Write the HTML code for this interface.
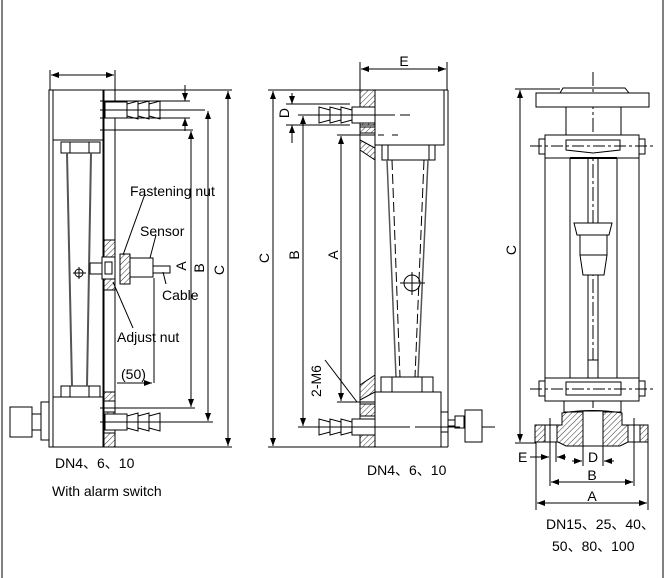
<!DOCTYPE html>
<html><head><meta charset="utf-8"><style>
html,body{margin:0;padding:0;background:#fff;}
svg{display:block;}
text{font-family:"Liberation Sans","Noto Sans CJK SC",sans-serif;fill:#000;}
</style></head><body>
<svg width="665" height="578" viewBox="0 0 665 578" xmlns="http://www.w3.org/2000/svg">
<defs>
<pattern id="h" width="4" height="4" patternUnits="userSpaceOnUse" patternTransform="rotate(45)"><line x1="0" y1="0" x2="0" y2="4" stroke="#000" stroke-width="0.8"/></pattern>
<marker id="a" markerWidth="8" markerHeight="6" refX="8" refY="3" orient="auto-start-reverse" markerUnits="userSpaceOnUse"><path d="M0,0 L8,3 L0,6 z" fill="#000"/></marker>
</defs>
<g stroke="#000" stroke-width="1" fill="none">
<line x1="2" y1="0" x2="2" y2="578"/>
<line x1="663" y1="0" x2="663" y2="578"/>

<!-- LEFT VIEW -->
<line x1="50" y1="70" x2="50" y2="90"/><line x1="115" y1="70" x2="115" y2="90"/>
<line x1="51" y1="75" x2="114" y2="75" marker-start="url(#a)" marker-end="url(#a)"/>
<rect x="49" y="90" width="54" height="357" fill="#fff"/>
<line x1="53" y1="90" x2="53" y2="447"/>
<line x1="53" y1="140" x2="103" y2="140"/>
<line x1="53" y1="397" x2="103" y2="397"/>
<rect x="61" y="142" width="39" height="11"/><line x1="70" y1="142" x2="70" y2="153"/><line x1="89" y1="142" x2="89" y2="153"/>
<rect x="61" y="386" width="39" height="11"/><line x1="70" y1="386" x2="70" y2="397"/><line x1="89" y1="386" x2="89" y2="397"/>
<line x1="67" y1="153" x2="72" y2="386" stroke-width="2" stroke="#555"/>
<line x1="91" y1="153" x2="87" y2="386" stroke-width="2" stroke="#555"/>
<circle cx="79" cy="273" r="4"/><line x1="73" y1="273" x2="86" y2="273"/><line x1="79" y1="267" x2="79" y2="279"/>
<rect x="104" y="90" width="11" height="357"/>
<rect x="104" y="240" width="11" height="50" fill="url(#h)"/>
<rect x="104" y="392" width="11" height="9" fill="url(#h)"/>
<rect x="104" y="412" width="11" height="5" fill="url(#h)"/>
<rect x="104" y="433" width="11" height="14" fill="url(#h)"/>
<rect x="105" y="102" width="22" height="16" fill="#fff"/>
<path d="M127,104 L138,101 L138,119 L127,116 Z M138,104 L149,101 L149,119 L138,116 Z M149,104 L160,101 L160,119 L149,116 Z" fill="#fff"/>
<rect x="105" y="414" width="22" height="16" fill="#fff"/>
<path d="M127,416 L138,413 L138,431 L127,428 Z M138,416 L149,413 L149,431 L138,428 Z M149,416 L160,413 L160,431 L149,428 Z" fill="#fff"/>
<line x1="100" y1="110" x2="205" y2="110"/><line x1="100" y1="422" x2="213" y2="422"/>
<rect x="10" y="407" width="22" height="30" fill="#fff"/><rect x="32" y="414" width="9" height="16"/><rect x="41" y="402" width="8" height="38"/>
<rect x="90" y="263" width="14" height="11"/>
<rect x="102" y="257" width="13" height="22" fill="#fff"/>
<rect x="105" y="262" width="7" height="12"/>
<rect x="120" y="254" width="10" height="30" fill="url(#h)"/>
<rect x="130" y="258" width="23" height="19" fill="#fff"/>
<rect x="153" y="266" width="17" height="7"/>
<line x1="154" y1="278" x2="154" y2="383"/>
<line x1="122" y1="383" x2="152" y2="383" marker-end="url(#a)"/>
<line x1="117" y1="383" x2="122" y2="383"/>
<line x1="145" y1="194" x2="123" y2="255"/>
<line x1="156" y1="235" x2="150" y2="258"/>
<line x1="166" y1="284" x2="163" y2="272"/>
<line x1="133" y1="328" x2="113" y2="282"/>
<line x1="100" y1="101" x2="190" y2="101"/><line x1="100" y1="118" x2="190" y2="118"/><line x1="100" y1="130" x2="193" y2="130"/>
<line x1="100" y1="408" x2="195" y2="408"/><line x1="100" y1="447" x2="232" y2="447"/>
<line x1="185" y1="85" x2="185" y2="101" marker-end="url(#a)"/><line x1="185" y1="131" x2="185" y2="118" marker-end="url(#a)"/>
<line x1="191" y1="131" x2="191" y2="407" marker-start="url(#a)" marker-end="url(#a)"/>
<line x1="208" y1="111" x2="208" y2="421" marker-start="url(#a)" marker-end="url(#a)"/>
<line x1="228" y1="91" x2="228" y2="446" marker-start="url(#a)" marker-end="url(#a)"/>
<line x1="115" y1="90" x2="232" y2="90"/>

<!-- MIDDLE VIEW -->
<line x1="360" y1="62" x2="360" y2="90"/><line x1="447" y1="62" x2="447" y2="90"/>
<line x1="361" y1="69" x2="446" y2="69" marker-start="url(#a)" marker-end="url(#a)"/>
<rect x="360" y="90" width="15" height="357"/>
<rect x="360" y="90" width="15" height="35" fill="url(#h)"/>
<rect x="360" y="127" width="15" height="6" fill="url(#h)"/>
<path d="M360,140 L375,148 L375,160 L360,150 Z" fill="url(#h)"/>
<path d="M360,385 L375,375 L375,392 L360,400 Z" fill="url(#h)"/>
<rect x="360" y="404" width="15" height="12" fill="url(#h)"/>
<rect x="360" y="432" width="15" height="15" fill="url(#h)"/>
<rect x="375" y="90" width="69" height="55"/>
<line x1="448" y1="90" x2="448" y2="447"/><line x1="444" y1="90" x2="448" y2="90"/><line x1="441" y1="447" x2="448" y2="447"/>
<rect x="382" y="145" width="53" height="15"/><line x1="388" y1="145" x2="388" y2="160"/><line x1="429" y1="145" x2="429" y2="160"/>
<line x1="387" y1="160" x2="396" y2="377" stroke="#555" stroke-width="1.5"/>
<line x1="428" y1="160" x2="418" y2="377" stroke="#555" stroke-width="1.5"/>
<line x1="392" y1="160" x2="400" y2="377" stroke-dasharray="10,4"/>
<line x1="424" y1="160" x2="415" y2="377" stroke-dasharray="10,4"/>
<circle cx="412" cy="283" r="8"/><line x1="400" y1="283" x2="425" y2="283"/><line x1="412" y1="272" x2="412" y2="295"/>
<rect x="381" y="377" width="52" height="15"/><rect x="392" y="377" width="30" height="15"/>
<rect x="375" y="392" width="66" height="55"/>
<rect x="441" y="412" width="7" height="20"/><rect x="455" y="416" width="9" height="12"/><rect x="448" y="420" width="7" height="6"/>
<rect x="465" y="410" width="17" height="32"/>
<line x1="482" y1="427" x2="495" y2="427"/>
<rect x="352" y="107" width="23" height="16" fill="#fff"/>
<path d="M352,110 L341,107 L341,123 L352,120 Z M341,110 L330,107 L330,123 L341,120 Z M330,110 L319,107 L319,123 L330,120 Z" fill="#fff"/>
<rect x="352" y="419" width="23" height="16" fill="#fff"/>
<path d="M352,422 L341,419 L341,435 L352,432 Z M341,422 L330,419 L330,435 L341,432 Z M330,422 L319,419 L319,435 L330,432 Z" fill="#fff"/>
<line x1="298" y1="115" x2="395" y2="115"/><line x1="400" y1="115" x2="410" y2="115"/>
<line x1="298" y1="427" x2="410" y2="427"/><line x1="415" y1="427" x2="460" y2="427"/>
<line x1="378" y1="135" x2="384" y2="135"/><line x1="392" y1="135" x2="398" y2="135"/>
<line x1="268" y1="90" x2="360" y2="90"/><line x1="268" y1="447" x2="360" y2="447"/>
<line x1="286" y1="104" x2="350" y2="104"/><line x1="286" y1="125" x2="350" y2="125"/>
<line x1="337" y1="135" x2="375" y2="135"/><line x1="337" y1="402" x2="375" y2="402"/>
<line x1="273" y1="91" x2="273" y2="446" marker-start="url(#a)" marker-end="url(#a)"/>
<line x1="303" y1="116" x2="303" y2="426" marker-start="url(#a)" marker-end="url(#a)"/>
<line x1="341" y1="136" x2="341" y2="401" marker-start="url(#a)" marker-end="url(#a)"/>
<line x1="292" y1="93" x2="292" y2="104" marker-end="url(#a)"/><line x1="292" y1="143" x2="292" y2="125" marker-end="url(#a)"/>
<line x1="325" y1="360" x2="357" y2="402"/>

<!-- RIGHT VIEW -->
<line x1="593" y1="72" x2="593" y2="440" stroke-dasharray="14,3,3,3"/>
<path d="M560,93 L563,88 L625,88 L629,93"/>
<rect x="536" y="93" width="113" height="14" fill="#fff"/>
<rect x="566" y="107" width="55" height="28"/>
<rect x="545" y="135" width="94" height="23" fill="#fff"/>
<path d="M566,140 L620,140 L620,150 L593,153 L566,150 Z"/>
<rect x="539" y="139" width="6" height="15"/><rect x="639" y="139" width="6" height="15"/>
<line x1="530" y1="146" x2="655" y2="146" stroke-dasharray="12,3,3,3"/>
<line x1="545" y1="158" x2="545" y2="378"/><line x1="639" y1="158" x2="639" y2="378"/>
<line x1="570" y1="158" x2="570" y2="378"/><line x1="617" y1="158" x2="617" y2="378"/>
<line x1="570" y1="158" x2="617" y2="158" stroke-width="2"/>
<line x1="588" y1="158" x2="588" y2="378"/><line x1="598" y1="158" x2="598" y2="378"/>
<rect x="588" y="360" width="10" height="18" fill="#fff"/>
<path d="M574,223 L612,223 L609,235 L577,235 Z" fill="#fff"/>
<rect x="580" y="235" width="27" height="20" fill="#fff"/>
<path d="M580,255 L607,255 L604,275 L583,275 Z" fill="#fff"/>
<rect x="545" y="378" width="94" height="23" fill="#fff"/>
<rect x="566" y="382" width="55" height="13"/>
<rect x="539" y="381" width="6" height="15"/><rect x="639" y="381" width="6" height="15"/>
<line x1="530" y1="389" x2="655" y2="389" stroke-dasharray="12,3,3,3"/>
<rect x="564" y="401" width="57" height="11"/>
<path d="M535,425 L562,425 L562,413 Q593,408 622,413 L622,425 L648,425 L648,442 L628,442 L620,446 L566,446 L558,442 L535,442 Z" fill="url(#h)"/>
<rect x="583" y="411" width="20" height="35" fill="#fff"/>
<rect x="545" y="425" width="12" height="17" fill="#fff"/><rect x="628" y="425" width="12" height="17" fill="#fff"/>
<line x1="550" y1="418" x2="550" y2="486"/><line x1="634" y1="418" x2="634" y2="486"/>
<line x1="536" y1="442" x2="536" y2="510"/><line x1="648" y1="442" x2="648" y2="510"/>
<line x1="556" y1="442" x2="556" y2="462"/>
<line x1="583" y1="446" x2="583" y2="466"/><line x1="603" y1="446" x2="603" y2="466"/>
<line x1="515" y1="89" x2="560" y2="89"/><line x1="515" y1="443" x2="536" y2="443"/>
<line x1="520" y1="90" x2="520" y2="442" marker-start="url(#a)" marker-end="url(#a)"/>
<line x1="530" y1="457" x2="549" y2="457" marker-end="url(#a)"/>
<line x1="566" y1="457" x2="557" y2="457" marker-end="url(#a)"/>
<line x1="572" y1="461" x2="582" y2="461" marker-end="url(#a)"/>
<line x1="614" y1="461" x2="604" y2="461" marker-end="url(#a)"/>
<line x1="551" y1="482" x2="633" y2="482" marker-start="url(#a)" marker-end="url(#a)"/>
<line x1="537" y1="503" x2="647" y2="503" marker-start="url(#a)" marker-end="url(#a)"/>
</g>

<g font-size="14">
<text x="130" y="196">Fastening nut</text>
<text x="140" y="236">Sensor</text>
<text x="162" y="300">Cable</text>
<text x="117" y="342">Adjust nut</text>
<text x="121" y="379">(50)</text>
<text transform="translate(186,266) rotate(-90)" text-anchor="middle">A</text>
<text transform="translate(204,268) rotate(-90)" text-anchor="middle">B</text>
<text transform="translate(224,270) rotate(-90)" text-anchor="middle">C</text>
<text x="404" y="66" text-anchor="middle">E</text>
<text transform="translate(269,258) rotate(-90)" text-anchor="middle">C</text>
<text transform="translate(299,255) rotate(-90)" text-anchor="middle">B</text>
<text transform="translate(338,255) rotate(-90)" text-anchor="middle">A</text>
<text transform="translate(289,113) rotate(-90)" text-anchor="middle">D</text>
<text transform="translate(321,381) rotate(-90)" text-anchor="middle">2-M6</text>
<text transform="translate(516,250) rotate(-90)" text-anchor="middle">C</text>
<text x="518" y="462">E</text>
<text x="593" y="462" text-anchor="middle">D</text>
<text x="592" y="480" text-anchor="middle">B</text>
<text x="592" y="501" text-anchor="middle">A</text>
<text x="55" y="468">DN4、6、10</text>
<text x="52" y="496">With alarm switch</text>
<text x="367" y="475">DN4、6、10</text>
<text x="546" y="529">DN15、25、40、</text>
<text x="552" y="551">50、80、100</text>
</g>
</svg>
</body></html>
